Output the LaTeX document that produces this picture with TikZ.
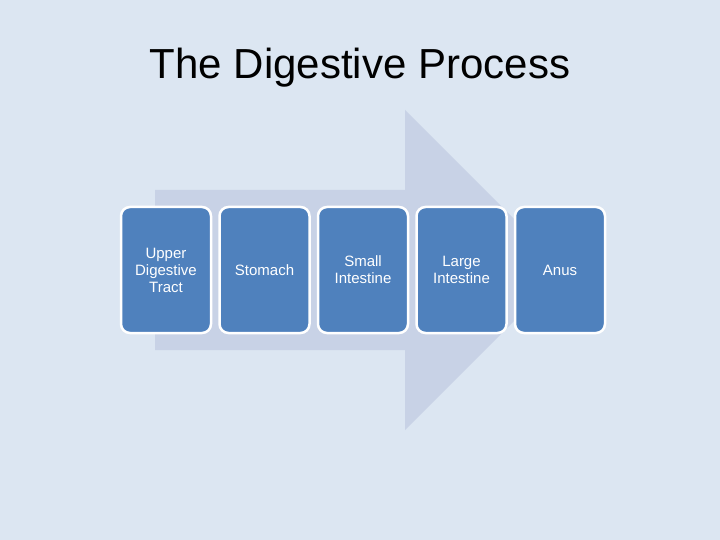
\documentclass[tikz,border=0pt]{standalone}
\usepackage{fontspec}
\setmainfont{Liberation Sans}
\usetikzlibrary{positioning}
\definecolor{slidebg}{HTML}{DCE6F2}
\definecolor{arrowbg}{HTML}{C8D2E6}
\definecolor{stepblue}{HTML}{4F81BD}
\tikzset{
  stage/.style={draw=white, line width=2.5pt, fill=stepblue, rounded corners=9pt,
    minimum width=90pt, minimum height=126pt, text width=80pt, align=center,
    text=white, font=\fontsize{15}{17}\selectfont, inner sep=0pt}
}
\begin{document}
\begin{tikzpicture}[x=1pt,y=-1pt]
        % Background
        \fill[slidebg] (0,0) rectangle (720,540);
        \useasboundingbox (0,0) rectangle (720,540);

        % Title
        \node (title) at (360,68) {\fontsize{42}{48}\selectfont The Digestive Process};

        % Big arrow
        \fill[arrowbg] (155,190) -- (405,190) -- (405,110) -- (565,270)
          -- (405,430) -- (405,350) -- (155,350) -- cycle;

        % Stages
        \node[stage] (upper) at (166,270) {Upper\\Digestive\\Tract};
        \node[stage, right=6pt of upper] (stomach) {Stomach};
        \node[stage, right=6pt of stomach] (small) {Small\\Intestine};
        \node[stage, right=6pt of small] (large) {Large\\Intestine};
        \node[stage, right=6pt of large] (anus) {Anus};
\end{tikzpicture}
\end{document}
